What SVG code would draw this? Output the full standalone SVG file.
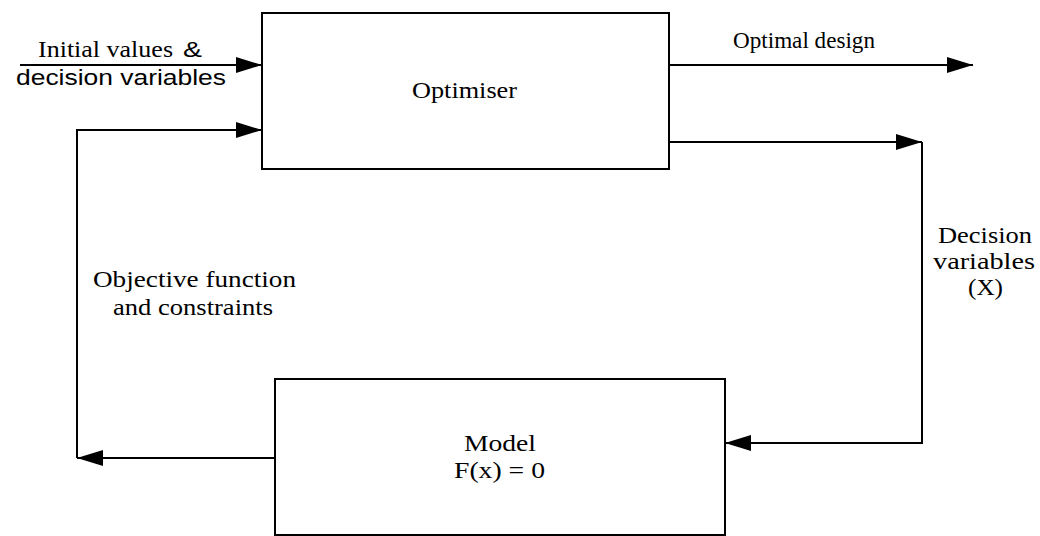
<svg xmlns="http://www.w3.org/2000/svg" width="1040" height="536" viewBox="0 0 1040 536">
<defs>
<style>
.box{fill:#fff;stroke:#000;stroke-width:2}
.ln{fill:none;stroke:#000;stroke-width:2}
.ah{fill:#000}
.t{font-family:'Times New Roman','Liberation Serif',Times,serif;font-size:23px;fill:#000}
.s{font-family:Arial,'Liberation Sans',sans-serif;font-size:22px;fill:#000}
</style>
<marker id="arr" markerUnits="userSpaceOnUse" markerWidth="26" markerHeight="16" refX="26" refY="8" orient="auto">
<path d="M0,0 L26,8 L0,16 Z" class="ah"/>
</marker>
</defs>
<rect width="1040" height="536" fill="#fff"/>
<g id="connectors">
<path class="ln" d="M20,65 H262" marker-end="url(#arr)"/>
<path class="ln" d="M262,130 H77 V458" />
<path class="ln" d="M77,130 H262" marker-end="url(#arr)"/>
<path class="ln" d="M670,65 H973" marker-end="url(#arr)"/>
<path class="ln" d="M667,142 H922" marker-end="url(#arr)"/>
<path class="ln" d="M922,142 V443 H725" marker-end="url(#arr)"/>
<path class="ln" d="M275,458 H77" marker-end="url(#arr)"/>
</g>
<g id="optimiser">
<rect class="box" x="262" y="13" width="407" height="156"/>
<text class="t" x="412" y="98" textLength="105" lengthAdjust="spacingAndGlyphs">Optimiser</text>
</g>
<g id="model">
<rect class="box" x="275" y="379" width="450" height="156"/>
<text class="t" x="464" y="451" textLength="72" lengthAdjust="spacingAndGlyphs">Model</text>
<text class="t" x="454" y="478" textLength="91" lengthAdjust="spacingAndGlyphs">F(x) = 0</text>
</g>
<g id="labels">
<text class="t" x="38" y="57" textLength="135" lengthAdjust="spacingAndGlyphs">Initial values</text>
<text class="s" x="183" y="57" textLength="19" lengthAdjust="spacingAndGlyphs">&amp;</text>
<text class="s" x="16" y="85" textLength="210" lengthAdjust="spacingAndGlyphs">decision variables</text>
<text class="t" x="733" y="48" textLength="142" lengthAdjust="spacingAndGlyphs">Optimal design</text>
<text class="t" x="93" y="287" textLength="203" lengthAdjust="spacingAndGlyphs">Objective function</text>
<text class="t" x="113" y="315" textLength="160" lengthAdjust="spacingAndGlyphs">and constraints</text>
<text class="t" x="938" y="243" textLength="94" lengthAdjust="spacingAndGlyphs">Decision</text>
<text class="t" x="933" y="269" textLength="102" lengthAdjust="spacingAndGlyphs">variables</text>
<text class="t" x="968" y="295" textLength="35" lengthAdjust="spacingAndGlyphs">(X)</text>
</g>
</svg>
